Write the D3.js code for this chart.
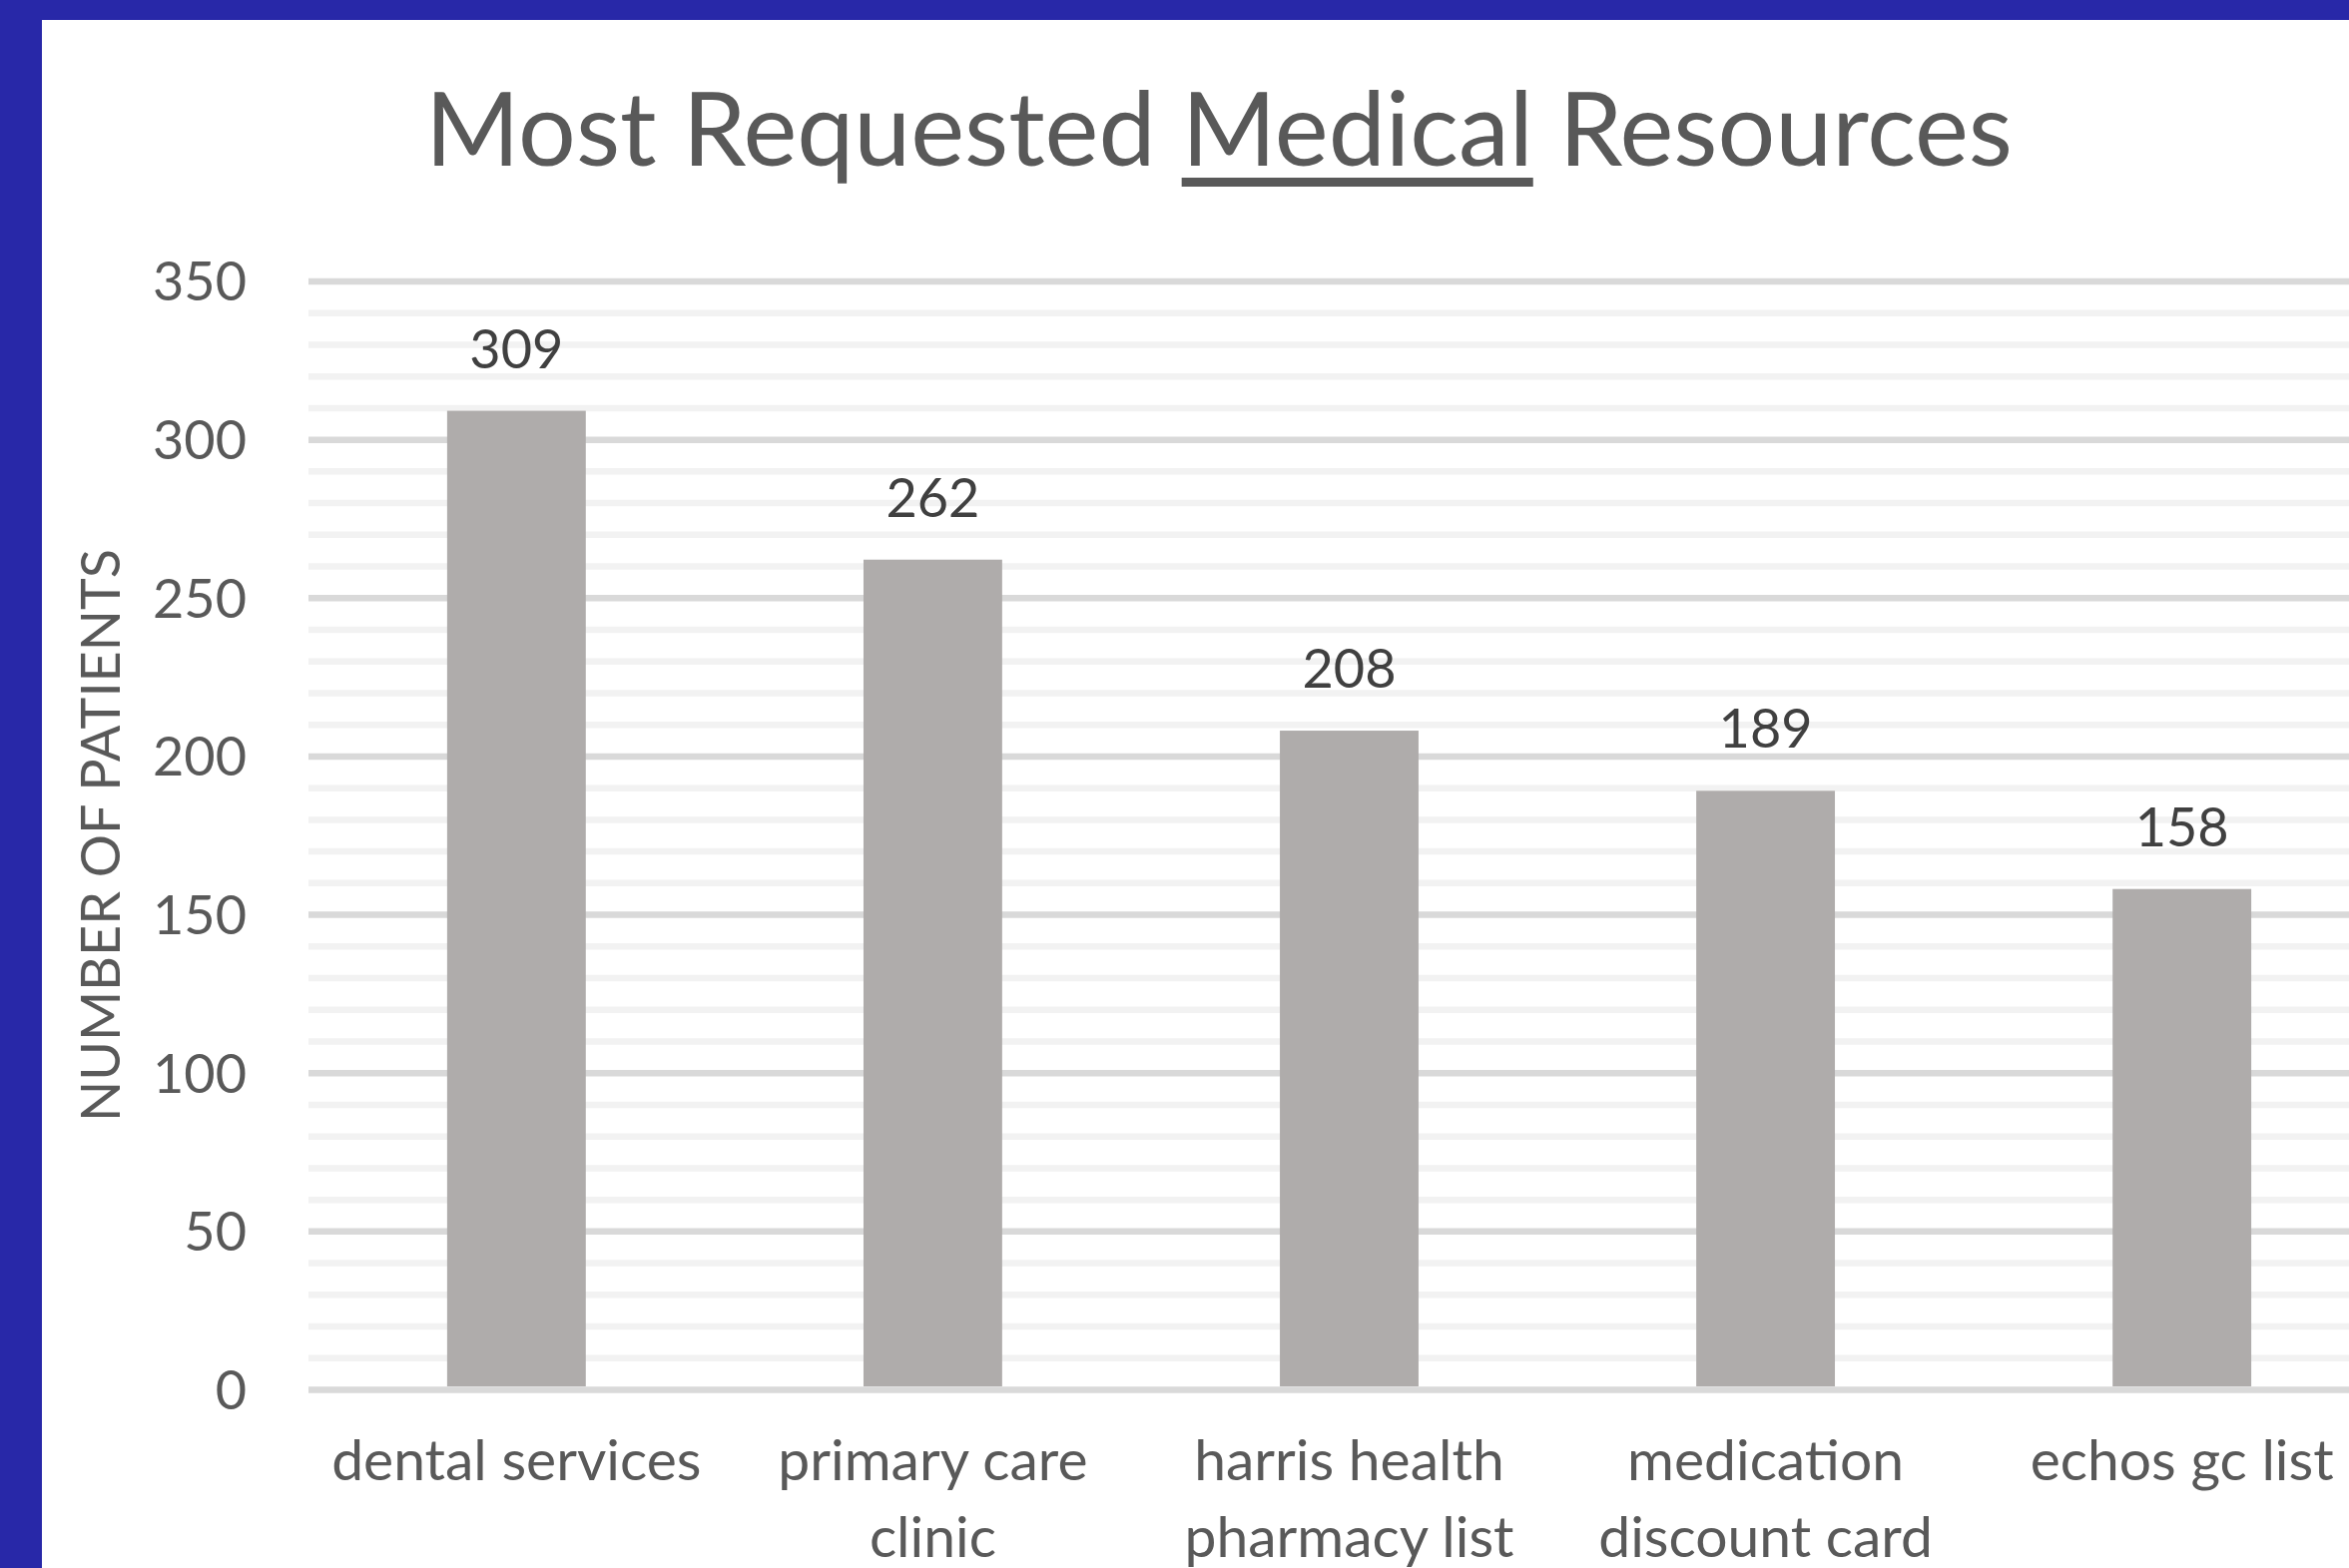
<!DOCTYPE html>
<html>
<head>
<meta charset="utf-8">
<script src="https://cdn.jsdelivr.net/npm/d3@7/dist/d3.min.js"></script>
<style>
  html, body { margin: 0; padding: 0; background: #ffffff; }
  svg { display: block; }
  text { font-family: Lato, "Open Sans", sans-serif; }
</style>
</head>
<body>
<svg id="chart" width="2353" height="1571"></svg>
<script>
// Resource categories and patient counts
const categories = ["dental services", "primary care clinic", "harris health pharmacy list", "medication discount card", "echos gc list"];
const categoryLines = [["dental services"], ["primary care", "clinic"], ["harris health", "pharmacy list"], ["medication", "discount card"], ["echos gc list"]];
const patients = [309, 262, 208, 189, 158];
const yTicks = [0, 50, 100, 150, 200, 250, 300, 350];
const yMinorTicks = d3.range(0, 351, 10);

const W = 2353, H = 1571;
const svg = d3.select("#chart");

const plot = { left: 309, right: 2394, top: 281.5, bottom: 1392 };

const x = d3.scaleBand()
  .domain(categories)
  .range([plot.left, plot.right])
  .paddingInner(0.667)
  .paddingOuter(0.333);

const y = d3.scaleLinear()
  .domain([0, 350])
  .range([plot.bottom, plot.top]);

// page background
svg.append("rect").attr("width", W).attr("height", H).attr("fill", "#ffffff");

// minor gridlines
const minor = svg.append("g")
  .attr("transform", `translate(${plot.left},0)`)
  .call(d3.axisRight(y).tickValues(yMinorTicks.filter(v => v % 50 !== 0)).tickSize(W - plot.left).tickFormat(""));
minor.select(".domain").remove();
minor.selectAll("line").attr("stroke", "#F2F2F2").attr("stroke-width", 6.5);

// major gridlines
const major = svg.append("g")
  .attr("transform", `translate(${plot.left},0)`)
  .call(d3.axisRight(y).tickValues(yTicks).tickSize(W - plot.left).tickFormat(""));
major.select(".domain").remove();
major.selectAll("line").attr("stroke", "#D9D9D9").attr("stroke-width", 6.5);

// bars
svg.append("g").selectAll("rect")
  .data(categories)
  .join("rect")
  .attr("x", d => x(d))
  .attr("width", x.bandwidth())
  .attr("y", (d, i) => y(patients[i]))
  .attr("height", (d, i) => y(0) - 3 - y(patients[i]))
  .attr("fill", "#AFACAB");

// value labels
svg.append("g").selectAll("text")
  .data(categories)
  .join("text")
  .attr("x", d => x(d) + x.bandwidth() / 2)
  .attr("y", (d, i) => y(patients[i]) - 43)
  .attr("text-anchor", "middle")
  .attr("font-size", 54)
  .attr("fill", "#404040")
  .text((d, i) => patients[i]);

// y axis labels
const yAxis = svg.append("g")
  .attr("transform", "translate(247,0)")
  .call(d3.axisLeft(y).tickValues(yTicks).tickSize(0).tickPadding(0));
yAxis.select(".domain").remove();
yAxis.selectAll("text")
  .attr("font-size", 54)
  .attr("font-family", "Lato, 'Open Sans', sans-serif")
  .attr("fill", "#595959")
  .attr("dy", "0.36em");

// category labels
const xl = svg.append("g").selectAll("text")
  .data(categories)
  .join("text")
  .attr("text-anchor", "middle")
  .attr("font-size", 57)
  .attr("fill", "#595959");
xl.each(function(d, i) {
  const t = d3.select(this);
  categoryLines[i].forEach((line, k) => {
    t.append("tspan")
      .attr("x", x(d) + x.bandwidth() / 2)
      .attr("y", 1483 + k * 77)
      .text(line);
  });
});

// y axis title
svg.append("text")
  .attr("transform", "translate(120,837) rotate(-90)")
  .attr("text-anchor", "middle")
  .attr("font-size", 54)
  .attr("fill", "#595959")
  .text("NUMBER OF PATIENTS");

// chart title with the underlined word
const title = svg.append("text")
  .attr("x", 1221)
  .attr("y", 166)
  .attr("text-anchor", "middle")
  .attr("font-size", 102)
  .attr("fill", "#595959");
title.append("tspan").text("Most Requested ");
title.append("tspan").text("Medical");
title.append("tspan").text(" Resources");
const tNode = title.node();
const s0 = "Most Requested ".length;
const s1 = s0 + "Medical".length - 1;
const ux0 = tNode.getStartPositionOfChar(s0).x;
const ux1 = tNode.getEndPositionOfChar(s1).x;
svg.append("rect")
  .attr("x", ux0)
  .attr("y", 178)
  .attr("width", ux1 - ux0)
  .attr("height", 9)
  .attr("fill", "#595959");

// blue frame along the top and left edges
svg.append("rect").attr("x", 0).attr("y", 0).attr("width", W).attr("height", 20).attr("fill", "#2828A8");
svg.append("rect").attr("x", 0).attr("y", 0).attr("width", 42).attr("height", H).attr("fill", "#2828A8");
</script>
</body>
</html>
